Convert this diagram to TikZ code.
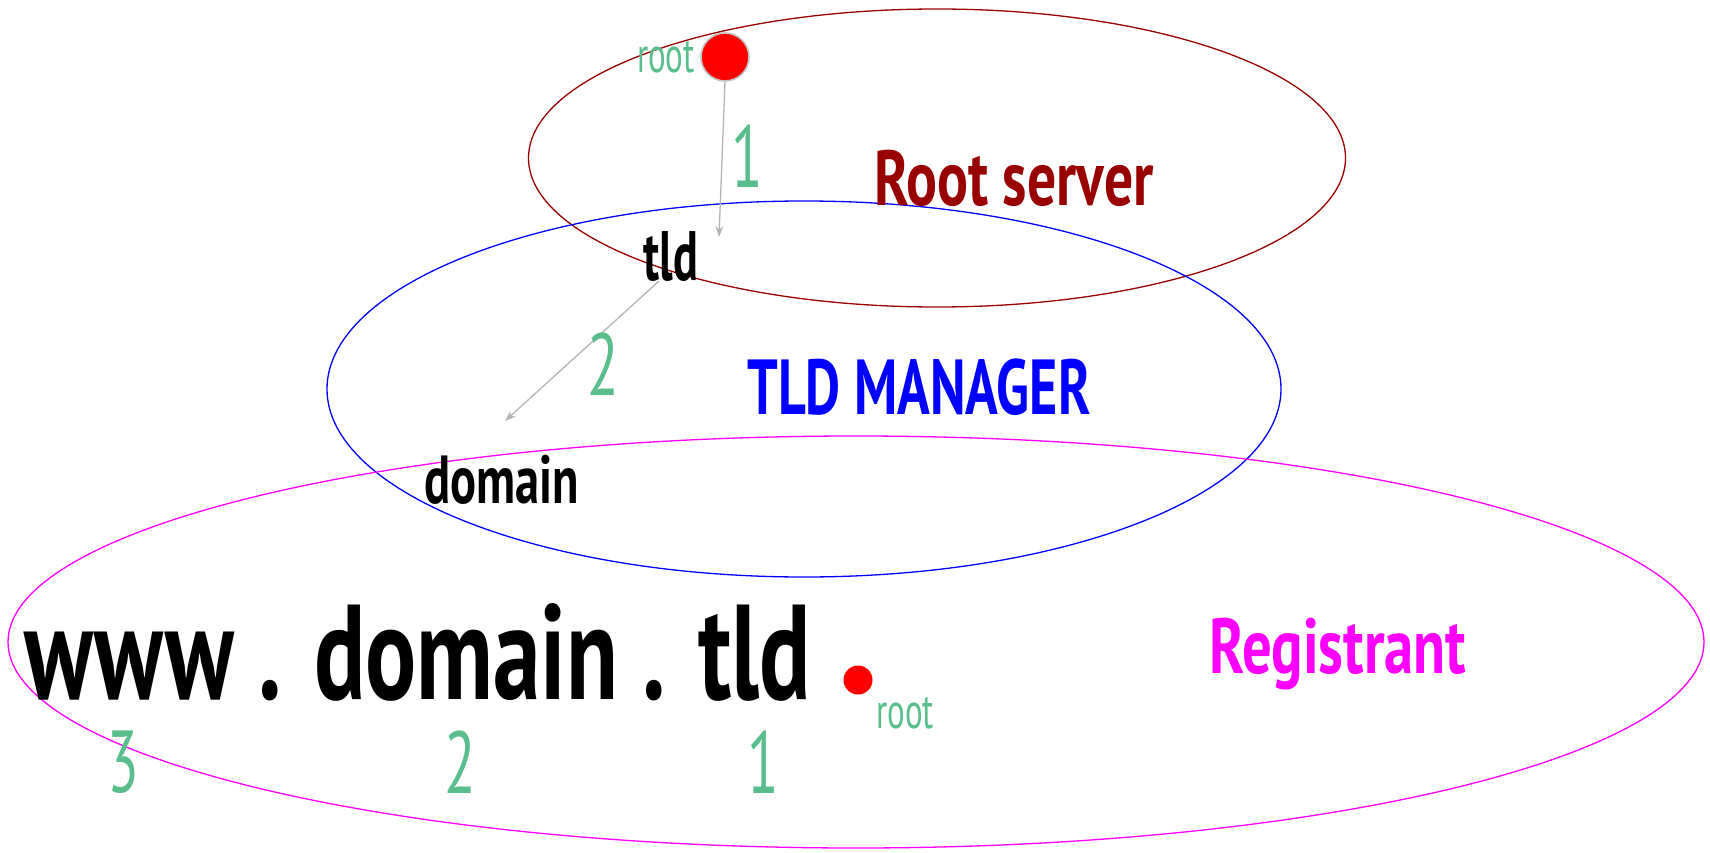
\documentclass[tikz,border=0pt]{standalone}
\usepackage{fontspec}
\setmainfont{PT Sans}[FakeStretch=0.66]
\usetikzlibrary{shapes.geometric,arrows.meta}
\definecolor{rootred}{HTML}{990000}
\definecolor{numgreen}{RGB}{90,190,140}
\definecolor{arrgray}{RGB}{180,180,180}
\definecolor{dotgray}{RGB}{195,195,195}
\definecolor{regmag}{RGB}{255,0,255}
\definecolor{mgrblue}{RGB}{0,0,255}
\tikzset{
  zone/.style={draw, ellipse, inner sep=0pt, line width=1.3pt},
  num/.style={text=numgreen, inner sep=0pt, font=\fontsize{88}{92}\selectfont},
  rootlbl/.style={text=numgreen, inner sep=0pt, font=\fontsize{50}{54}\selectfont},
  lbl/.style={inner sep=0pt, font=\bfseries},
  conn/.style={draw=arrgray, line width=1.3pt, -{Stealth[length=11pt,width=8pt]}},
}
\begin{document}
\begin{tikzpicture}[x=1pt,y=-1pt]
\useasboundingbox (0,0) rectangle (1710,853);
\node[zone, draw=rootred, minimum width=817pt, minimum height=298pt] (rootzone) at (937,158) {};
\node[zone, draw=mgrblue, minimum width=954pt, minimum height=376pt] (tldzone) at (804,389) {};
\node[zone, draw=regmag, minimum width=1696pt, minimum height=412pt] (regzone) at (856,642) {};
% root dot
\node[circle, fill=red, draw=dotgray, line width=1.6pt, minimum size=48pt, inner sep=0pt] (rootdot) at (725,57) {};
\node[rootlbl, anchor=east] (rootl) at (695,57) {root};
\node[lbl, font=\bfseries\fontsize{70}{74}\selectfont] (tld) at (671,256) {tld};
\node[lbl, font=\bfseries\fontsize{68}{72}\selectfont] (domain) at (502,480) {\scalebox{1.08}[1]{domain}};
\coordinate (a1end) at (719,237);
\coordinate (a2start) at (659,281);
\coordinate (a2end) at (505,421);
\draw[conn] (rootdot.south) -- (a1end);
\draw[conn] (a2start) -- (a2end);
\node[num] (n1top) at (747,156) {1};
\node[num] (n2top) at (603,364) {2};
\node[lbl, text=rootred, font=\bfseries\fontsize{78}{82}\selectfont] (rootserver) at (1014,178) {\scalebox{1.12}[1]{Root server}};
\node[lbl, text=mgrblue, font=\bfseries\fontsize{78}{82}\selectfont] (tldmgr) at (919,387) {\scalebox{1.05}[1]{TLD MANAGER}};
\node[lbl, text=regmag, font=\bfseries\fontsize{78}{82}\selectfont] (registrant) at (1338,654) {\scalebox{1.14}[1]{Registrant}};
\node[lbl, anchor=west, font=\bfseries\fontsize{135}{140}\selectfont] (fqdn) at (24,652) {\scalebox{1.07}[1]{www . domain . tld}};
\node[circle, fill=red, minimum size=29pt, inner sep=0pt] (smalldot) at (858,680) {};
\node[rootlbl] (rootb) at (905,713) {root};
\node[num] (n3) at (123,762) {3};
\node[num] (n2) at (460,762) {2};
\node[num] (n1) at (763,762) {1};
\end{tikzpicture}
\end{document}
